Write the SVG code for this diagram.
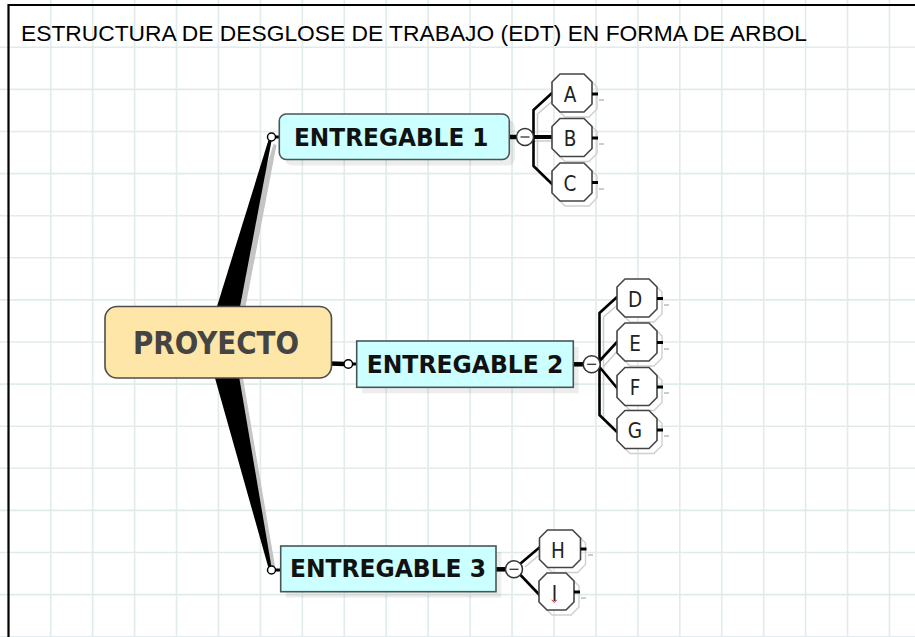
<svg xmlns="http://www.w3.org/2000/svg" width="915" height="637" viewBox="0 0 915 637">
<style>
.grid{stroke:#e1ebeb;stroke-width:1.6;fill:none}
.title{font-family:"Liberation Sans",Arial,sans-serif;font-size:22.5px;fill:#000}
.ent{fill:#ccffff;stroke:#4a5656;stroke-width:1.6}
.shadow{fill:#000;fill-opacity:0.07;stroke:none}
.lbl{font-family:"DejaVu Sans Condensed","DejaVu Sans",sans-serif;font-weight:bold;font-size:25px;fill:#111}
.root{fill:#fde6a7;stroke:#4d4d4d;stroke-width:1.6}
.rootlbl{font-family:"DejaVu Sans Condensed","DejaVu Sans",sans-serif;font-weight:bold;font-size:32px;fill:#444}
.oct{fill:#fff;stroke:#444;stroke-width:1.6}
.octsh{fill:none;stroke:#cfcfcf;stroke-width:1.4}
.leaf{font-family:"DejaVu Sans Condensed","DejaVu Sans",sans-serif;font-size:20.5px;fill:#222;text-anchor:middle}
.wire{fill:none;stroke:#000;stroke-width:2.6;stroke-linejoin:round;stroke-linecap:round}
.wiresh{fill:none;stroke:#cccccc;stroke-width:1.5}
.thick{fill:none;stroke:#000;stroke-width:4.5}
.tick{stroke:#000;stroke-width:3}
.ticksh{stroke:#bbb;stroke-width:1.5}
.knob{fill:#fff;stroke:#000;stroke-width:1.5}
.coll{fill:#fff;stroke:#333;stroke-width:1.5}
.minus{stroke:#333;stroke-width:1.3}
</style>

<!-- background grid -->
<rect x="0" y="0" width="915" height="637" fill="#fff"/>
<path class="grid" d="M50.7,0V637M92.64,0V637M134.58,0V637M176.52,0V637M218.46,0V637M260.4,0V637M302.34,0V637M344.28,0V637M386.22,0V637M428.16,0V637M470.1,0V637M512.04,0V637M553.98,0V637M595.92,0V637M637.86,0V637M679.8,0V637M721.74,0V637M763.68,0V637M805.62,0V637M847.56,0V637M889.5,0V637M0,47.3H915M0,89.4H915M0,131.5H915M0,173.6H915M0,215.7H915M0,257.8H915M0,299.9H915M0,342H915M0,384.1H915M0,426.2H915M0,468.3H915M0,510.4H915M0,552.5H915M0,594.6H915M0,636.7H915"/>
<path d="M8.5,637V5H915" fill="none" stroke="#000" stroke-width="2.2"/>

<text class="title" x="21" y="41" textLength="786" lengthAdjust="spacingAndGlyphs">ESTRUCTURA DE DESGLOSE DE TRABAJO (EDT) EN FORMA DE ARBOL</text>

<!-- connectors -->
<g id="connectors">
  <!-- tapered main branches with shadow -->
  <polygon points="273.5,144 276.5,145 238.3,344 211,344" fill="#c4c4c4"/>
  <polygon points="268.5,140 271.5,141 233.3,342 206,342" fill="#000"/>
  <polygon points="209.7,347 237.7,347 275.5,569 272.5,570" fill="#c4c4c4"/>
  <polygon points="205.7,345 233.7,345 271.5,567 268.5,568" fill="#000"/>
  <line x1="275" y1="137" x2="280" y2="137" class="thick" style="stroke-width:3"/>
  <circle class="knob" cx="271.5" cy="137" r="4"/>
  <line x1="275" y1="570" x2="281" y2="570" class="thick" style="stroke-width:3"/>
  <circle class="knob" cx="271.5" cy="570" r="4"/>
  <!-- root to entregable 2 -->
  <line x1="330" y1="363.5" x2="345" y2="364" class="thick"/>
  <line x1="352" y1="364" x2="357.5" y2="364" class="thick" style="stroke-width:3"/>
  <circle class="knob" cx="348.3" cy="364" r="4.3"/>

  <!-- entregable 1 children -->
  <path class="wiresh" d="M556,98 L537.5,114 V170 L556,188 M530,141 H556"/>
  <line x1="509" y1="137" x2="518" y2="137" class="thick"/>
  <path class="wire" d="M552,93 L533.5,110 V166 L552,184"/>
  <line x1="530" y1="137" x2="552.5" y2="137" class="thick" style="stroke-width:4"/>
  <!-- entregable 2 children -->
  <path class="wiresh" d="M621,302 L603.5,317 V419 L621,436 M604,366 L621,347 M604,371 L621,392"/>
  <line x1="573" y1="364.3" x2="584" y2="364.3" class="thick"/>
  <path class="wire" d="M617,297 L599.5,313 V415 L617,432 M599.5,361 L617,342 M599.5,367 L617,388"/>
  <!-- entregable 3 children -->
  <path class="wiresh" d="M525,567 L544,551 M525,579 L544,599"/>
  <line x1="496" y1="569.3" x2="506" y2="569.3" class="thick"/>
  <path class="wire" d="M520.5,563.5 L540,547 M520.5,575 L540,595.5"/>

  <!-- collapse buttons -->
  <circle class="coll" cx="525" cy="137" r="8.5"/>
  <line class="minus" x1="520.5" y1="137" x2="529.5" y2="137"/>
  <circle class="coll" cx="591.7" cy="364.3" r="8.5"/>
  <line class="minus" x1="587.2" y1="364.3" x2="596.2" y2="364.3"/>
  <circle class="coll" cx="514" cy="569.3" r="8.5"/>
  <line class="minus" x1="509.5" y1="569.3" x2="518.5" y2="569.3"/>
</g>

<!-- root -->
<g id="proyecto">
  <rect class="root" x="105" y="306.5" width="226.5" height="71.5" rx="12"/>
  <text class="rootlbl" x="133" y="353.5" textLength="166" lengthAdjust="spacingAndGlyphs">PROYECTO</text>
</g>

<g id="entregable1">
  <rect class="shadow" x="285" y="120" width="230" height="45.5" rx="7"/>
  <rect class="ent" x="279.3" y="114" width="230" height="45.5" rx="7"/>
  <text class="lbl" x="294" y="145.7" textLength="194.5" lengthAdjust="spacingAndGlyphs">ENTREGABLE 1</text>
</g>

<g id="entregable2">
  <rect class="shadow" x="362" y="347" width="216.6" height="46.3"/>
  <rect class="ent" x="356.7" y="341" width="216.6" height="46.3"/>
  <text class="lbl" x="366.7" y="373.3" textLength="196.6" lengthAdjust="spacingAndGlyphs">ENTREGABLE 2</text>
</g>

<g id="entregable3">
  <rect class="shadow" x="286" y="552" width="215.3" height="45.7"/>
  <rect class="ent" x="280.7" y="546" width="215.3" height="45.7"/>
  <text class="lbl" x="290" y="577" textLength="196" lengthAdjust="spacingAndGlyphs">ENTREGABLE 3</text>
</g>

<!-- leaves -->
<g id="leafA">
  <polygon class="octsh" points="565,79 589,79 597,87 597,109 589,117 565,117 557,109 557,87"/>
  <line class="ticksh" x1="599" y1="100" x2="604" y2="100"/>
  <polygon class="oct" points="560,74 584,74 592,82 592,104 584,112 560,112 552,104 552,82"/>
  <line class="tick" x1="592" y1="94" x2="598" y2="94"/>
  <text class="leaf" x="570" y="101.7">A</text>
</g>
<g id="leafB">
  <polygon class="octsh" points="565,123.5 589,123.5 597,131.5 597,153.5 589,161.5 565,161.5 557,153.5 557,131.5"/>
  <line class="ticksh" x1="599" y1="144" x2="604" y2="144"/>
  <polygon class="oct" points="560,118.5 584,118.5 592,126.5 592,148.5 584,156.5 560,156.5 552,148.5 552,126.5"/>
  <line class="tick" x1="592" y1="138" x2="598" y2="138"/>
  <text class="leaf" x="570" y="146.2">B</text>
</g>
<g id="leafC">
  <polygon class="octsh" points="565,168 589,168 597,176 597,198 589,206 565,206 557,198 557,176"/>
  <line class="ticksh" x1="599" y1="189" x2="604" y2="189"/>
  <polygon class="oct" points="560,163 584,163 592,171 592,193 584,201 560,201 552,193 552,171"/>
  <line class="tick" x1="592" y1="182.5" x2="598" y2="182.5"/>
  <text class="leaf" x="570" y="190.7">C</text>
</g>

<g id="leafD">
  <polygon class="octsh" points="630,284 654,284 662,292 662,314 654,322 630,322 622,314 622,292"/>
  <line class="ticksh" x1="664" y1="305" x2="669" y2="305"/>
  <polygon class="oct" points="625,279 649,279 657,287 657,309 649,317 625,317 617,309 617,287"/>
  <line class="tick" x1="657" y1="298.5" x2="663" y2="298.5"/>
  <text class="leaf" x="635" y="306.7">D</text>
</g>
<g id="leafE">
  <polygon class="octsh" points="630,328 654,328 662,336 662,358 654,366 630,366 622,358 622,336"/>
  <line class="ticksh" x1="664" y1="349" x2="669" y2="349"/>
  <polygon class="oct" points="625,323 649,323 657,331 657,353 649,361 625,361 617,353 617,331"/>
  <line class="tick" x1="657" y1="342.5" x2="663" y2="342.5"/>
  <text class="leaf" x="635" y="350.7">E</text>
</g>
<g id="leafF">
  <polygon class="octsh" points="630,372.5 654,372.5 662,380.5 662,402.5 654,410.5 630,410.5 622,402.5 622,380.5"/>
  <line class="ticksh" x1="664" y1="393" x2="669" y2="393"/>
  <polygon class="oct" points="625,367.5 649,367.5 657,375.5 657,397.5 649,405.5 625,405.5 617,397.5 617,375.5"/>
  <line class="tick" x1="657" y1="387" x2="663" y2="387"/>
  <text class="leaf" x="635" y="395.2">F</text>
</g>
<g id="leafG">
  <polygon class="octsh" points="630,415.5 654,415.5 662,423.5 662,445.5 654,453.5 630,453.5 622,445.5 622,423.5"/>
  <line class="ticksh" x1="664" y1="436" x2="669" y2="436"/>
  <polygon class="oct" points="625,410.5 649,410.5 657,418.5 657,440.5 649,448.5 625,448.5 617,440.5 617,418.5"/>
  <line class="tick" x1="657" y1="430" x2="663" y2="430"/>
  <text class="leaf" x="635" y="438.2">G</text>
</g>

<g id="leafH">
  <polygon class="octsh" points="552.5,535 577.5,535 585.5,543 585.5,564.5 577.5,572.5 552.5,572.5 544.5,564.5 544.5,543"/>
  <line class="ticksh" x1="588" y1="555" x2="593" y2="555"/>
  <polygon class="oct" points="547.5,530 572.5,530 580.5,538 580.5,559.5 572.5,567.5 547.5,567.5 539.5,559.5 539.5,538"/>
  <line class="tick" x1="580.5" y1="549" x2="586.5" y2="549"/>
  <text class="leaf" x="558" y="557.5">H</text>
</g>
<g id="leafI">
  <polygon class="octsh" points="552,578 571,578 579,586 579,607 571,615 552,615 544,607 544,586"/>
  <line class="ticksh" x1="581" y1="598" x2="586" y2="598"/>
  <polygon class="oct" points="547,573 566,573 574,581 574,602 566,610 547,610 539,602 539,581"/>
  <line class="tick" x1="574" y1="592" x2="580" y2="592"/>
  <text class="leaf" x="554.5" y="600.5">I</text>
  <path d="M551.7,599.8 L554.2,602.6 L556.7,599.8" fill="none" stroke="#e02020" stroke-width="1"/>
</g>
</svg>
